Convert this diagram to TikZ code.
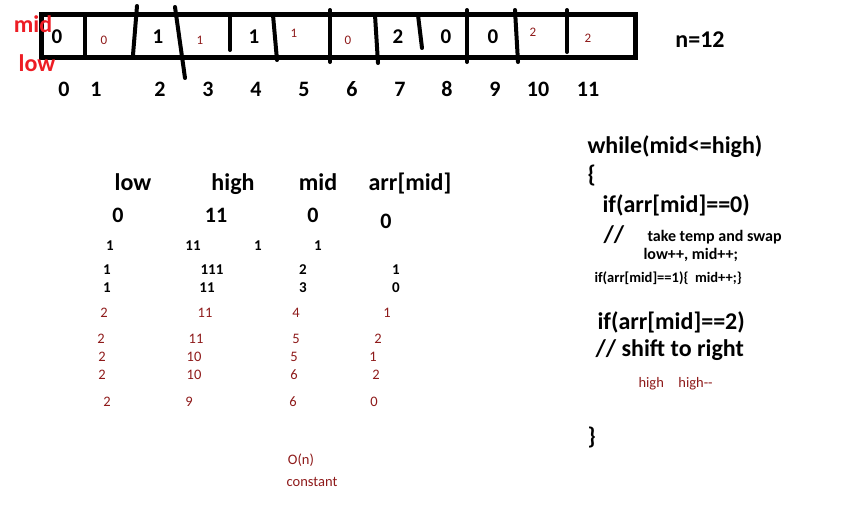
\documentclass[tikz,border=0pt]{standalone}
\usepackage{fontspec}
\setmainfont{Carlito}
\definecolor{dred}{HTML}{8E1A1A}
\definecolor{bred}{HTML}{ED1C24}
\begin{document}
\begin{tikzpicture}[x=1pt,y=-1pt,
  cellbig/.style={font=\bfseries\fontsize{21}{24}\selectfont},
  cellsmall/.style={font=\fontsize{13}{15}\selectfont,text=dred},
  idx/.style={font=\bfseries\fontsize{22}{24}\selectfont},
  hdr/.style={font=\bfseries\fontsize{24}{28}\selectfont},
  thdr/.style={font=\bfseries\fontsize{24}{28}\selectfont,anchor=base},
  rowbig/.style={font=\bfseries\fontsize{22}{24}\selectfont},
  rowsm/.style={font=\bfseries\fontsize{15}{17}\selectfont},
  rowred/.style={font=\fontsize{14.5}{17}\selectfont,text=dred},
  code/.style={font=\bfseries\fontsize{24}{28}\selectfont,anchor=west},
  codesm/.style={font=\bfseries\fontsize{16}{18}\selectfont,anchor=west},
  lbl/.style={font=\bfseries\fontsize{24}{28}\selectfont,text=bred},
  divider/.style={line width=4pt,line cap=round}]
\useasboundingbox (0,0) rectangle (861,507);
% array box
\draw[line width=5pt] (41,14) rectangle (635,57);
\draw[divider] (85,14) -- (85,57);
\draw[divider] (137,6) -- (133,55);
\draw[divider] (175,7) -- (185,78);
\draw[divider] (230,17) -- (230,50);
\draw[divider] (273,15) -- (277,60);
\draw[divider] (330,10) -- (330,62);
\draw[divider] (375,15) -- (378,63);
\draw[divider] (418,15) -- (422,48);
\draw[divider] (467,10) -- (467,62);
\draw[divider] (515,10) -- (518,62);
\draw[divider] (567,10) -- (567,52);
% cell contents
\node[cellbig] (c0) at (57,37) {0};
\node[cellsmall] (c1) at (104,40) {0};
\node[cellbig] (c2) at (158,37) {1};
\node[cellsmall] (c3) at (200,40) {1};
\node[cellbig] (c4) at (254,37) {1};
\node[cellsmall] (c5) at (294,33) {1};
\node[cellsmall] (c6) at (348,40) {0};
\node[cellbig] (c7) at (398,37) {2};
\node[cellbig] (c8) at (446,37) {0};
\node[cellbig] (c9) at (493,37) {0};
\node[cellsmall] (c10) at (533,32) {2};
\node[cellsmall] (c11) at (588,38) {2};
\node[lbl] (mid) at (33,24) {mid};
\node[lbl] (low) at (37,63) {low};
\node[hdr] (n) at (700,40) {n=12};
% indices
\foreach \i/\x in {0/64,1/96,2/160,3/208,4/256,5/304,6/352,7/400,8/447,9/495,10/538,11/588}
  \node[idx] (i\i) at (\x,89) {\i};
% table
\node[thdr] (hlow) at (133,190) {low};
\node[thdr] (hhigh) at (233,190) {high};
\node[thdr] (hmid) at (318,190) {mid};
\node[thdr] (harr) at (410,190) {arr[mid]};
\node[rowbig] (r0a) at (118,215) {0};
\node[rowbig] (r0b) at (216,215) {11};
\node[rowbig] (r0c) at (313,215) {0};
\node[rowbig] (r0d) at (386,221) {0};
\node[rowsm] (r1a) at (110,246) {1};
\node[rowsm] (r1b) at (193,246) {11};
\node[rowsm] (r1c) at (258,246) {1};
\node[rowsm] (r1d) at (318,246) {1};
\node[rowsm] (r2a) at (107,270) {1};
\node[rowsm] (r2b) at (212,270) {111};
\node[rowsm] (r2c) at (303,270) {2};
\node[rowsm] (r2d) at (396,270) {1};
\node[rowsm] (r3a) at (107,288) {1};
\node[rowsm] (r3b) at (207,288) {11};
\node[rowsm] (r3c) at (303,288) {3};
\node[rowsm] (r3d) at (396,288) {0};
\node[rowred] (r4a) at (104,313) {2};
\node[rowred] (r4b) at (205,313) {11};
\node[rowred] (r4c) at (296,313) {4};
\node[rowred] (r4d) at (387,313) {1};
\node[rowred] (r5a) at (101,339) {2};
\node[rowred] (r5b) at (196,339) {11};
\node[rowred] (r5c) at (296,339) {5};
\node[rowred] (r5d) at (378,339) {2};
\node[rowred] (r6a) at (102,357) {2};
\node[rowred] (r6b) at (194,357) {10};
\node[rowred] (r6c) at (294,357) {5};
\node[rowred] (r6d) at (373,357) {1};
\node[rowred] (r7a) at (102,375) {2};
\node[rowred] (r7b) at (194,375) {10};
\node[rowred] (r7c) at (294,375) {6};
\node[rowred] (r7d) at (376,375) {2};
\node[rowred] (r8a) at (107,402) {2};
\node[rowred] (r8b) at (189,402) {9};
\node[rowred] (r8c) at (293,402) {6};
\node[rowred] (r8d) at (374,402) {0};
\node[rowred] (on) at (301,460) {O(n)};
\node[rowred] (const) at (312,482) {constant};
% code
\node[code] (w) at (584,147) {while(mid<=high)};
\node[code] (ob) at (584,176) {\{};
\node[code] (if0) at (599,205) {if(arr[mid]==0)};
\node[code] (cm) at (600,235) {//};
\node[codesm] (tk) at (644,237) {take temp and swap};
\node[codesm] (lm) at (640,255) {low++, mid++;};
\node[codesm,font=\bfseries\fontsize{14.5}{17}\selectfont] (if1) at (591,278) {if(arr[mid]==1)\{\ \ mid++;\}};
\node[code] (if2) at (594,322) {if(arr[mid]==2)};
\node[code] (sh) at (592,350) {// shift to right};
\node[rowred,anchor=west] (hh) at (635,384) {high\quad high-{}-};
\node[code] (cb) at (584,437) {\}};
\end{tikzpicture}
\end{document}
